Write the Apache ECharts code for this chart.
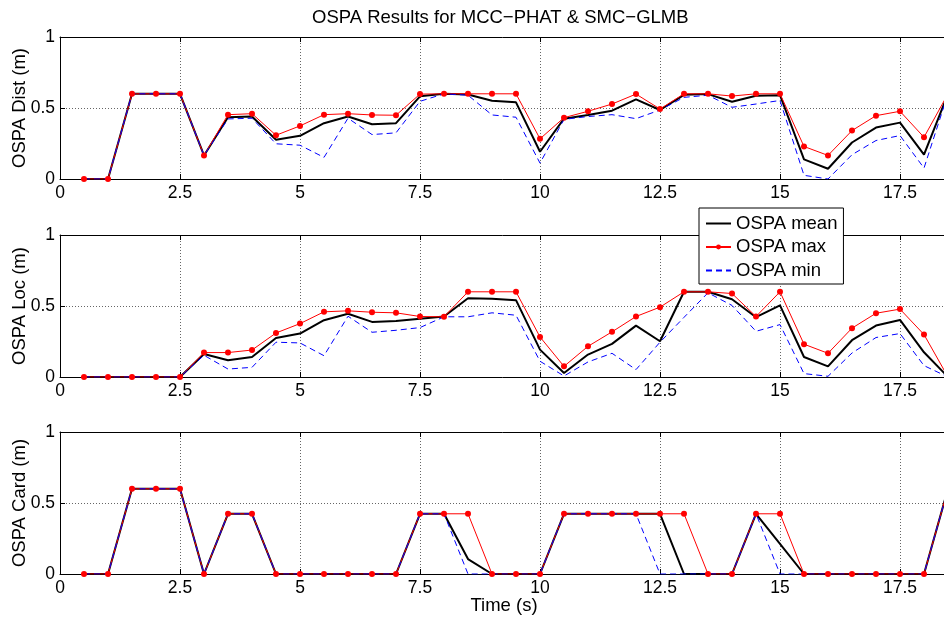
<!DOCTYPE html>
<html>
<head>
<meta charset="utf-8">
<script src="https://cdn.jsdelivr.net/npm/echarts@6/dist/echarts.min.js"></script>
<style>
html,body{margin:0;padding:0;background:#fff;}
#main{width:944px;height:619px;}
</style>
</head>
<body>
<div id="main"></div>
<script>
// Time stamps (s)
var time = [0.5,1,1.5,2,2.5,3,3.5,4,4.5,5,5.5,6,6.5,7,7.5,8,8.5,9,9.5,10,10.5,11,11.5,12,12.5,13,13.5,14,14.5,15,15.5,16,16.5,17,17.5,18,18.5];

// OSPA Dist
var distMean = [0,0,0.6,0.6,0.6,0.166,0.435,0.44,0.276,0.304,0.393,0.44,0.386,0.393,0.582,0.6,0.595,0.551,0.54,0.192,0.425,0.451,0.481,0.561,0.486,0.593,0.598,0.544,0.586,0.59,0.138,0.072,0.257,0.362,0.397,0.171,0.6];
var distMax  = [0,0,0.6,0.6,0.6,0.166,0.453,0.46,0.308,0.374,0.453,0.46,0.451,0.449,0.598,0.6,0.6,0.6,0.6,0.283,0.432,0.477,0.528,0.598,0.493,0.6,0.6,0.584,0.6,0.6,0.229,0.166,0.341,0.446,0.477,0.294,0.6];
var distMin  = [0,0,0.6,0.6,0.6,0.166,0.423,0.428,0.248,0.238,0.152,0.428,0.313,0.325,0.547,0.6,0.59,0.451,0.435,0.112,0.42,0.44,0.453,0.425,0.486,0.575,0.59,0.505,0.528,0.553,0.026,0.0,0.171,0.271,0.306,0.077,0.6];

// OSPA Loc
var locMean = [0,0,0,0,0,0.162,0.118,0.141,0.275,0.306,0.4,0.445,0.388,0.395,0.41,0.426,0.555,0.551,0.541,0.193,0.028,0.158,0.233,0.362,0.252,0.6,0.6,0.548,0.421,0.504,0.141,0.075,0.259,0.362,0.402,0.174,0];
var locMax  = [0,0,0,0,0,0.172,0.172,0.19,0.31,0.376,0.459,0.466,0.456,0.452,0.426,0.424,0.6,0.6,0.6,0.282,0.075,0.216,0.318,0.426,0.492,0.6,0.6,0.588,0.426,0.6,0.231,0.167,0.344,0.449,0.478,0.299,0];
var locMin  = [0,0,0,0,0,0.153,0.056,0.068,0.245,0.24,0.15,0.428,0.315,0.329,0.348,0.424,0.424,0.452,0.435,0.111,0.007,0.106,0.167,0.052,0.245,0.42,0.593,0.504,0.322,0.369,0.024,0.005,0.169,0.278,0.306,0.08,0];

// OSPA Card
var cardMean = [0,0,0.6,0.6,0.6,0,0.424,0.424,0,0,0,0,0,0,0.424,0.424,0.105,0,0,0,0.424,0.424,0.424,0.424,0.424,0,0,0,0.424,0.212,0,0,0,0,0,0,0.6];
var cardMax  = [0,0,0.6,0.6,0.6,0,0.424,0.424,0,0,0,0,0,0,0.424,0.424,0.424,0,0,0,0.424,0.424,0.424,0.424,0.424,0.424,0,0,0.424,0.424,0,0,0,0,0,0,0.6];
var cardMin  = [0,0,0.6,0.6,0.6,0,0.424,0.424,0,0,0,0,0,0,0.424,0.424,0,0,0,0,0.424,0.424,0.424,0.424,0,0,0,0,0.424,0,0,0,0,0,0,0,0.6];

var xTicks = {min:0, max:18.5, interval:2.5};
var yTicks = {min:0, max:1, interval:0.5};
var yNames = ['OSPA Dist (m)','OSPA Loc (m)','OSPA Card (m)'];
var seriesNames = ['OSPA mean','OSPA max','OSPA min'];
var panels = [[distMean,distMax,distMin],[locMean,locMax,locMin],[cardMean,cardMax,cardMin]];

var FONT = 'Liberation Sans';
var TICK_FS = 17.5, LABEL_FS = 18.5;
var tops = [37,235,432];

function pairs(arr){ return time.map(function(t,i){ return [t, arr[i]]; }); }

var grids = [], xAxes = [], yAxes = [], series = [];
tops.forEach(function(top, g){
  grids.push({left:60, right:-4, top:top, height:142, containLabel:false, outerBoundsMode:'none'});
  xAxes.push({
    type:'value', gridIndex:g, position:'bottom',
    min:xTicks.min, max:xTicks.max, interval:xTicks.interval,
    axisLine:{show:true, onZero:false, lineStyle:{color:'#000', width:1}},
    axisTick:{show:true, inside:true, length:5, lineStyle:{color:'#000'}},
    axisLabel:{show:true, margin:5, color:'#000', fontSize:TICK_FS, fontFamily:FONT, showMaxLabel:false},
    splitLine:{show:true, lineStyle:{color:'#666', width:1, type:[1,2]}},
    name: g===2 ? 'Time (s)' : '',
    nameLocation:'middle', nameGap:22, nameMoveOverlap:false,
    nameTextStyle:{color:'#000', fontSize:LABEL_FS, fontFamily:FONT}
  });
  xAxes.push({
    type:'value', gridIndex:g, position:'top',
    min:xTicks.min, max:xTicks.max, interval:xTicks.interval,
    axisLine:{show:true, onZero:false, lineStyle:{color:'#000', width:1}},
    axisTick:{show:true, inside:true, length:5, lineStyle:{color:'#000'}},
    axisLabel:{show:false},
    splitLine:{show:false}
  });
  yAxes.push({
    type:'value', gridIndex:g, position:'left',
    min:yTicks.min, max:yTicks.max, interval:yTicks.interval,
    axisLine:{show:true, onZero:false, lineStyle:{color:'#000', width:1}},
    axisTick:{show:true, inside:true, length:5, lineStyle:{color:'#000'}},
    axisLabel:{show:true, margin:5, color:'#000', fontSize:TICK_FS, fontFamily:FONT},
    splitLine:{show:true, lineStyle:{color:'#666', width:1, type:[1,2]}},
    name:yNames[g], nameLocation:'middle', nameGap:31, nameRotate:90, nameMoveOverlap:false,
    nameTextStyle:{color:'#000', fontSize:LABEL_FS, fontFamily:FONT}
  });
  var d = panels[g];
  series.push({
    name:seriesNames[0], type:'line', xAxisIndex:g*2, yAxisIndex:g,
    data:pairs(d[0]), showSymbol:false, symbol:'none',
    lineStyle:{color:'#000', width:2}, itemStyle:{color:'#000'},
    animation:false, silent:true, clip:true
  });
  series.push({
    name:seriesNames[1], type:'line', xAxisIndex:g*2, yAxisIndex:g,
    data:pairs(d[1]), symbol:'circle', symbolSize:6, showAllSymbol:true,
    lineStyle:{color:'#ff0000', width:1}, itemStyle:{color:'#ff0000'},
    animation:false, silent:true, clip:true
  });
  series.push({
    name:seriesNames[2], type:'line', xAxisIndex:g*2, yAxisIndex:g,
    data:pairs(d[2]), showSymbol:false, symbol:'none',
    lineStyle:{color:'#0000ff', width:1, type:[6,4]}, itemStyle:{color:'#0000ff'},
    animation:false, silent:true, clip:true
  });
});

var chart = echarts.init(document.getElementById('main'), null, {renderer:'canvas'});
chart.setOption({
  backgroundColor:'#fff',
  animation:false,
  title:{
    text:'OSPA Results for MCC\u2212PHAT & SMC\u2212GLMB',
    left:312, top:8, padding:0,
    textStyle:{color:'#000', fontSize:LABEL_FS, fontWeight:'normal', fontFamily:FONT}
  },
  legend:{
    data:[
      {name:seriesNames[0], itemStyle:{opacity:0}},
      {name:seriesNames[1]},
      {name:seriesNames[2], itemStyle:{opacity:0}}
    ],
    orient:'vertical', left:699, top:208,
    padding:[6,6,4,6], itemGap:4.5, itemWidth:25, itemHeight:6,
    backgroundColor:'#fff', borderColor:'#000', borderWidth:1, borderRadius:0,
    textStyle:{color:'#000', fontSize:LABEL_FS, fontFamily:FONT},
    selectedMode:false
  },
  grid:grids, xAxis:xAxes, yAxis:yAxes, series:series
});
</script>
</body>
</html>
